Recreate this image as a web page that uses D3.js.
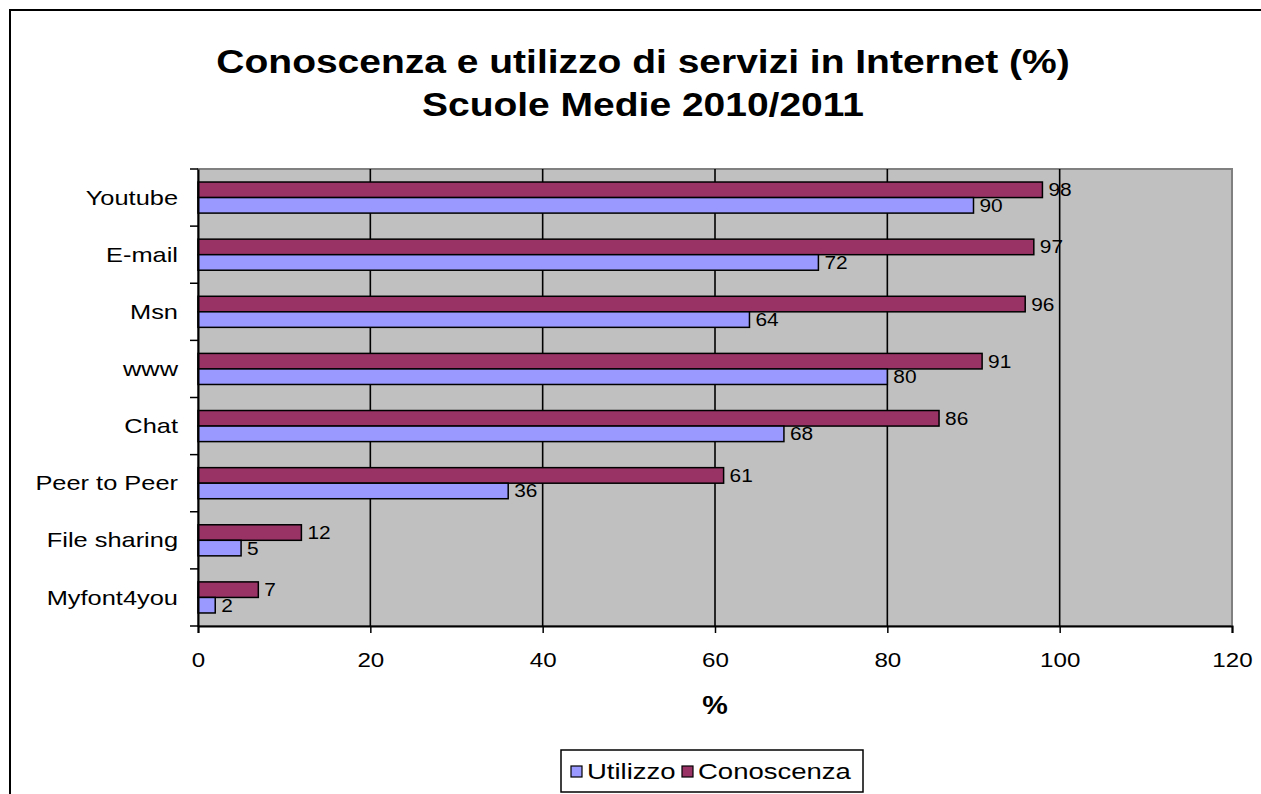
<!DOCTYPE html>
<html><head><meta charset="utf-8">
<script src="https://cdn.jsdelivr.net/npm/d3@7"></script>
<style>
html,body{margin:0;padding:0;background:#fff;}
text{font-family:"Liberation Sans",Arial,sans-serif;fill:#000;}
</style></head>
<body>
<svg id="chart" width="1261" height="794"></svg>
<script>
const categories = ["Youtube","E-mail","Msn","www","Chat","Peer to Peer","File sharing","Myfont4you"];
const utilizzo   = [90,72,64,80,68,36,5,2];
const conoscenza = [98,97,96,91,86,61,12,7];
const seriesNames = ["Utilizzo","Conoscenza"];
const xTicks = [0,20,40,60,80,100,120];
const titleLines = ["Conoscenza e utilizzo di servizi in Internet (%)","Scuole Medie 2010/2011"];
const xTitle = "%";

const colors = {Utilizzo:"#9999FF", Conoscenza:"#993366"};
const svg = d3.select("#chart");
svg.append("rect").attr("width",1261).attr("height",794).attr("fill","#fff");
svg.append("rect").attr("x",10).attr("y",10).attr("width",1300).attr("height",900)
  .attr("fill","none").attr("stroke","#000").attr("stroke-width",2);

const L=198,R=1232,T=169,B=626;
const x = d3.scaleLinear().domain([0,120]).range([L,R]);
const y = d3.scaleBand().domain(categories).range([T,B]).padding(0);
const ys = d3.scaleBand().domain(["Conoscenza","Utilizzo"]).range([y.bandwidth()*0.228,y.bandwidth()*0.772]);

// title
const tg = svg.append("g");
titleLines.forEach((t,i)=>{
  tg.append("text").attr("transform",`translate(643,${73+i*43}) scale(1.2,1)`)
    .attr("text-anchor","middle").attr("font-size",32.5).attr("font-weight","bold").text(t);
});

// plot area
svg.append("rect").attr("x",L).attr("y",T).attr("width",R-L).attr("height",B-T)
  .attr("fill","#C0C0C0").attr("stroke","#808080").attr("stroke-width",2);

// gridlines
svg.append("g").selectAll("line").data(xTicks.filter(d=>d>0&&d<120)).join("line")
  .attr("x1",d=>x(d)).attr("x2",d=>x(d)).attr("y1",T).attr("y2",B)
  .attr("stroke","#000").attr("stroke-width",1.6);

// bars
const data = categories.map((c,i)=>({cat:c, Utilizzo:utilizzo[i], Conoscenza:conoscenza[i]}));
const bg = svg.append("g");
data.forEach(d=>{
  ["Conoscenza","Utilizzo"].forEach(s=>{
    const yy = y(d.cat)+ys(s);
    bg.append("rect").attr("x",x(0)).attr("y",yy).attr("width",x(d[s])-x(0)).attr("height",ys.bandwidth())
      .attr("fill",colors[s]).attr("stroke","#000").attr("stroke-width",1.5);
    bg.append("text").attr("transform",`translate(${x(d[s])+6},${yy+ys.bandwidth()/2}) scale(1.16,1)`)
      .attr("dy","0.36em").attr("font-size",18).text(d[s]);
  });
});

// x axis
const xa = svg.append("g").attr("transform",`translate(0,${B})`)
  .call(d3.axisBottom(x).tickValues(xTicks).tickSize(7).tickPadding(19).tickFormat(d3.format("d")));
xa.select(".domain").attr("stroke","#000").attr("stroke-width",2);
xa.selectAll(".tick line").attr("stroke","#000").attr("stroke-width",1.5);
xa.selectAll(".tick text").attr("font-size",21).attr("font-family","Liberation Sans, Arial, sans-serif")
  .attr("transform","scale(1.15,1)");

// y axis
const ya = svg.append("g").attr("transform",`translate(${L},0)`)
  .call(d3.axisLeft(y).tickSize(0).tickPadding(0));
ya.select(".domain").attr("stroke","#000").attr("stroke-width",2);
ya.selectAll(".tick text").attr("font-size",21).attr("font-family","Liberation Sans, Arial, sans-serif")
  .attr("x",-20/1.21).attr("dy","0.34em").attr("transform","scale(1.21,1)");
const bounds = categories.map(c=>y(c)).concat([B]);
svg.append("g").selectAll("line").data(bounds).join("line")
  .attr("x1",L-8).attr("x2",L).attr("y1",d=>d).attr("y2",d=>d)
  .attr("stroke","#000").attr("stroke-width",1.5);

// x title
svg.append("text").attr("transform",`translate(${(L+R)/2},714) scale(1.15,1)`)
  .attr("text-anchor","middle").attr("font-size",25).attr("font-weight","bold").text(xTitle);

// legend
const lg = svg.append("g");
lg.append("rect").attr("x",561).attr("y",750).attr("width",302).attr("height",42)
  .attr("fill","#fff").attr("stroke","#000").attr("stroke-width",1.5);
const legX = [571,682];
seriesNames.forEach((s,i)=>{
  lg.append("rect").attr("x",legX[i]).attr("y",766).attr("width",11).attr("height",11)
    .attr("fill",colors[s]).attr("stroke","#000").attr("stroke-width",1.2);
  lg.append("text").attr("transform",`translate(${legX[i]+16},779) scale(1.25,1)`)
    .attr("font-size",22).text(s);
});
</script>
</body></html>
